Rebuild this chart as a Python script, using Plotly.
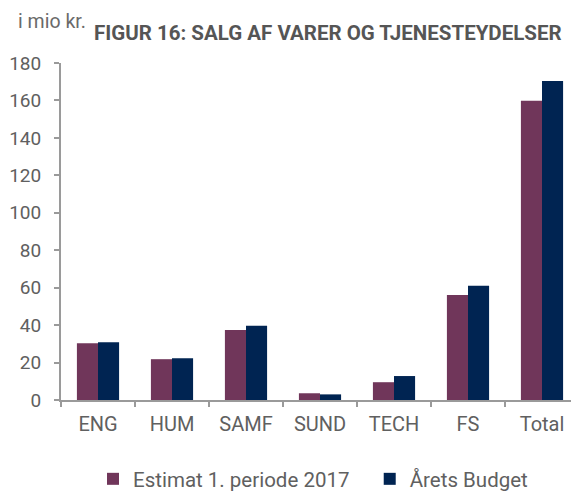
import plotly.graph_objects as go

categories = ["ENG", "HUM", "SAMF", "SUND", "TECH", "FS", "Total"]
estimat = [30.3, 21.8, 37.4, 3.6, 9.5, 56.1, 159.9]
budget = [30.9, 22.3, 39.6, 3.0, 12.8, 61.0, 170.4]
y_ticks = [0, 20, 40, 60, 80, 100, 120, 140, 160, 180]

FONT = "Roboto"
GRAY = "#606060"
OFF = 8  # page body margin of the browser
W, H = 579 - OFF, 493 - OFF
L, R, T, B = 61 - OFF, 0, 63 - OFF, 93
PW, PH = W - L - R, H - T - B


def px(x):
    return (x - OFF - L) / PW


def py(y):
    return (H - B - (y - OFF)) / PH


fig = go.Figure()
fig.add_trace(go.Bar(x=categories, y=estimat,
                     name="Estimat 1. periode 2017\u00a0\u00a0\u00a0",
                     marker=dict(color="#70365a", line=dict(width=0))))
fig.add_trace(go.Bar(x=categories, y=budget, name="Årets Budget",
                     marker=dict(color="#002452", line=dict(width=0))))

fig.update_layout(
    width=W, height=H,
    margin=dict(l=L, r=R, t=T, b=B, autoexpand=False),
    paper_bgcolor="white", plot_bgcolor="white",
    barmode="group", bargap=0.43, bargroupgap=0,
    font=dict(family=FONT, color=GRAY, size=20),
    showlegend=True,
    legend=dict(orientation="h", x=px(93), xanchor="left", y=py(479), yanchor="middle",
                font=dict(size=20.5, color=GRAY), entrywidth=0,
                itemwidth=30, traceorder="normal", tracegroupgap=0),
    annotations=[
        dict(text="i mio kr.", x=px(16), y=py(22), xref="paper", yref="paper", showarrow=False,
             xanchor="left", yanchor="middle", font=dict(size=19.5, color="#6a6a6a")),
        dict(text="<b>FIGUR 16: SALG AF VARER OG TJENESTEYDELSER</b>", x=px(92), y=py(33),
             xref="paper", yref="paper",
             showarrow=False, xanchor="left", yanchor="middle",
             font=dict(size=20.5, color="#555555")),
    ],
)

fig.update_xaxes(showline=True, linecolor="#9a9a9a", linewidth=2, ticks="outside",
                 tickson="boundaries", ticklen=5, tickcolor="#9a9a9a", tickwidth=2,
                 showgrid=False, tickfont=dict(size=20, color=GRAY), ticklabelstandoff=5)
fig.update_yaxes(range=[0, 180], tickvals=y_ticks, showline=True, linecolor="#9a9a9a",
                 linewidth=2, ticks="outside", ticklen=5, tickcolor="#9a9a9a", tickwidth=2,
                 showgrid=False, zeroline=False, tickfont=dict(size=19, color=GRAY),
                 ticklabelstandoff=9)

fig.write_html("out.html")
